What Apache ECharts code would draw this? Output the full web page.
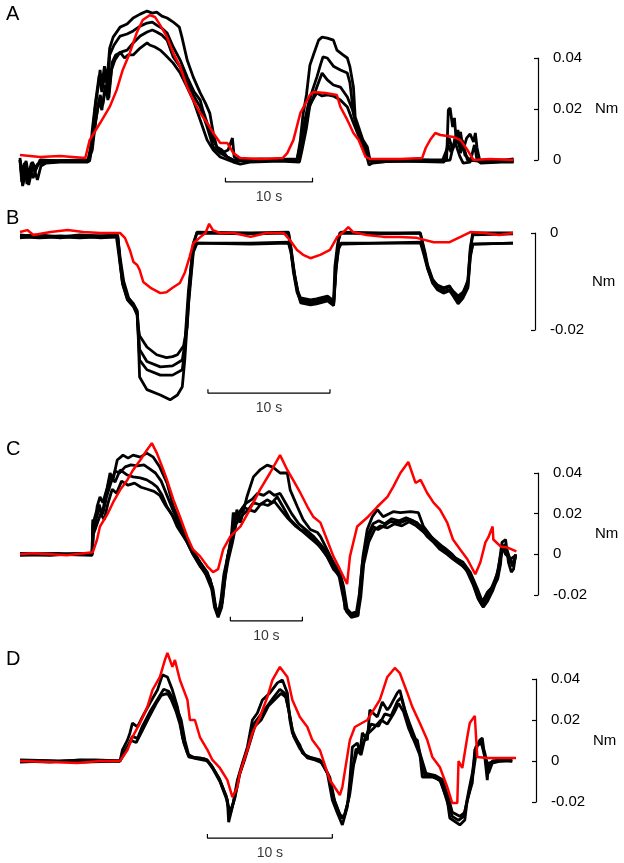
<!DOCTYPE html>
<html><head><meta charset="utf-8">
<script src="https://cdn.jsdelivr.net/npm/echarts/dist/echarts.min.js"></script>
<style>html,body{margin:0;padding:0;background:#fff}#c{width:624px;height:863px}</style>
</head><body><div id="c"></div>
<script>
// ---------- Panel A (time s, torque Nm) ----------
const aRed = [[0,0.0020],[2.3,0.0012],[4.6,0.0016],[7.5,0.0008],[8.0,0.0078],[9.2,0.0145],[10.3,0.0208],[11.1,0.0274],[11.8,0.0353],[12.6,0.0419],[13.4,0.0498],[14.1,0.0549],[14.9,0.0568],[15.5,0.0561],[16.1,0.0529],[16.9,0.0482],[17.6,0.0419],[18.4,0.0365],[19.2,0.0286],[19.9,0.0235],[20.7,0.0184],[21.5,0.0145],[22.2,0.0106],[23.0,0.0067],[23.8,0.0067],[24.1,0.0051],[24.5,0.0027],[25.3,0.0008],[27.6,0.0004],[30.2,0.0008],[30.7,0.0027],[31.4,0.0078],[32.2,0.0184],[33.3,0.0255],[33.7,0.0267],[35.1,0.0263],[36.4,0.0255],[36.8,0.0208],[37.6,0.0157],[38.3,0.0106],[38.9,0.0078],[39.7,0.0012],[40.2,0.0004],[43.7,0.0004],[46.2,0.0008],[46.6,0.0047],[47.1,0.0078],[47.7,0.0106],[48.3,0.0098],[49.8,0.0090],[50.6,0.0078],[51.4,0.0039],[52.1,0.0],[54.0,0.0004],[56.7,0.0]];
const aBlack1 = [[0,0],[0.2,-0.0086],[0.6,-0.0024],[0.9,-0.0078],[1.3,-0.0012],[1.7,-0.0047],[2.3,0],[4.6,-0.0004],[7.8,0],[8.3,0.0078],[8.6,0.0196],[9.0,0.0294],[9.2,0.0353],[9.4,0.0290],[9.7,0.0368],[10.0,0.0314],[10.3,0.0439],[10.7,0.0482],[11.5,0.0521],[12.3,0.0533],[13.0,0.0557],[13.8,0.0572],[14.6,0.0584],[15.2,0.0576],[15.7,0.0580],[16.3,0.0564],[16.9,0.0557],[17.6,0.0541],[18.3,0.0521],[18.6,0.0482],[19.2,0.0392],[19.9,0.0325],[20.7,0.0263],[21.3,0.0223],[21.8,0.0184],[22.2,0.0106],[22.6,0.0051],[23.2,0.0039],[23.8,0.0012],[24.5,0],[26.4,-0.0004],[28.7,0],[31.8,-0.0004],[32.2,0.0078],[32.5,0.0176],[32.9,0.0255],[33.3,0.0372],[33.7,0.0412],[34.3,0.0470],[34.7,0.0482],[35.3,0.0478],[36.0,0.0470],[36.4,0.0431],[37.1,0.0412],[37.6,0.0400],[37.9,0.0365],[38.3,0.0286],[38.5,0.0169],[38.9,0.0129],[39.4,0.0078],[39.9,0.0051],[40.2,0],[40.5,-0.0012],[42.5,-0.0004],[46.0,0],[49.0,0],[49.2,0.0196],[49.4,0.0204],[49.7,0.0129],[49.9,0.0165],[50.1,0.0078],[50.3,0.0118],[50.6,0.0027],[50.9,0.0059],[51.4,0],[52.9,-0.0004],[55.2,0],[56.7,-0.0004]];
const aBlack2 = [[0,0],[0.2,-0.0059],[0.5,-0.0012],[0.8,-0.0094],[1.1,-0.0031],[1.5,-0.0071],[2.0,-0.0016],[2.9,-0.0008],[5.7,-0.0004],[8.0,-0.0004],[8.3,0.0118],[8.7,0.0235],[9.1,0.0333],[9.4,0.0267],[9.8,0.0345],[10.1,0.0255],[10.3,0.0412],[10.8,0.0451],[11.5,0.0486],[12.3,0.0494],[13.0,0.0506],[13.8,0.0525],[14.6,0.0537],[15.2,0.0541],[15.7,0.0529],[16.4,0.0514],[16.9,0.0498],[17.6,0.0443],[18.4,0.0392],[19.2,0.0325],[20.0,0.0267],[20.7,0.0235],[21.0,0.0196],[21.5,0.0145],[22.2,0.0078],[22.8,0.0039],[23.2,0.0027],[23.9,0.0039],[24.4,0.0086],[24.6,0.0012],[25.3,0],[27.6,0.0004],[31.8,0],[32.2,0.0059],[32.6,0.0137],[33.1,0.0216],[33.6,0.0274],[34.1,0.0325],[34.5,0.0372],[34.8,0.0404],[35.3,0.0400],[36.0,0.0368],[36.8,0.0353],[37.6,0.0341],[37.9,0.0302],[38.3,0.0184],[38.7,0.0129],[39.3,0.0078],[39.9,0.0027],[40.2,0],[42.5,-0.0004],[48.3,-0.0004],[49.4,0],[50.0,0.0090],[50.2,0.0067],[50.6,0.0110],[50.9,0.0039],[51.3,0.0086],[51.7,0.0102],[52.1,0.0071],[52.3,0.0106],[52.5,0.0047],[52.8,0],[54.6,-0.0004],[56.7,0.0004]];
const aBlack3 = [[0,-0.0008],[0.3,-0.0039],[0.7,-0.0004],[1.0,-0.0063],[1.4,-0.0008],[1.8,-0.0031],[2.5,-0.0004],[8.0,0],[8.4,0.0086],[8.9,0.0196],[9.2,0.0255],[9.5,0.0216],[9.9,0.0294],[10.2,0.0243],[10.6,0.0384],[11.0,0.0412],[11.6,0.0423],[12.3,0.0431],[13.0,0.0459],[13.8,0.0486],[14.6,0.0502],[15.2,0.0510],[15.7,0.0502],[16.3,0.0490],[16.9,0.0470],[17.6,0.0404],[18.4,0.0365],[19.2,0.0302],[19.9,0.0255],[20.7,0.0208],[21.5,0.0129],[22.2,0.0051],[23.0,0.0027],[23.8,0.0012],[24.7,-0.0004],[27.6,0],[32.0,0.0004],[32.3,0.0059],[32.8,0.0137],[33.2,0.0204],[33.7,0.0247],[34.1,0.0286],[34.7,0.0341],[35.3,0.0314],[36.0,0.0294],[36.8,0.0286],[37.6,0.0247],[38.2,0.0196],[38.7,0.0129],[39.4,0.0051],[39.9,0.0012],[40.5,-0.0004],[46.0,0],[48.5,-0.0004],[49.0,0.0039],[49.3,0.0086],[49.7,0.0039],[50.1,0.0098],[50.5,0.0051],[50.8,0.0078],[51.1,0.0020],[51.7,0],[54.0,-0.0008],[56.7,-0.0004]];
const aBlack4 = [[0,0.0008],[0.3,-0.0102],[0.7,-0.0047],[1.0,-0.0098],[1.5,-0.0020],[2.0,-0.0078],[2.4,-0.0024],[3.0,-0.0012],[4.6,-0.0008],[7.8,-0.0008],[8.3,0.0039],[8.7,0.0157],[9.1,0.0235],[9.4,0.0196],[9.8,0.0294],[10.1,0.0235],[10.5,0.0353],[10.9,0.0392],[11.5,0.0423],[12.0,0.0400],[12.4,0.0412],[13.0,0.0412],[13.8,0.0439],[14.6,0.0459],[14.9,0.0451],[15.5,0.0443],[16.1,0.0431],[16.7,0.0412],[17.6,0.0380],[18.4,0.0341],[19.2,0.0286],[19.9,0.0235],[20.7,0.0157],[21.5,0.0078],[22.2,0.0039],[23.0,0.0012],[23.9,0],[24.5,-0.0008],[25.3,-0.0016],[26.4,-0.0008],[29.9,-0.0004],[32.1,-0.0008],[32.4,0.0039],[32.9,0.0125],[33.3,0.0216],[33.8,0.0247],[34.1,0.0263],[34.7,0.0251],[35.3,0.0255],[36.0,0.0251],[36.8,0.0235],[37.6,0.0208],[38.3,0.0145],[39.1,0.0078],[39.7,0.0031],[40.1,-0.0020],[40.6,-0.0008],[43.7,-0.0004],[48.7,-0.0008],[49.2,0.0059],[49.5,0.0031],[50.0,0.0067],[50.5,0.0016],[50.9,-0.0012],[51.7,-0.0008],[52.2,0.0059],[52.5,0],[52.9,-0.0012],[55.2,-0.0008],[56.7,-0.0008]];

// ---------- Panel B ----------
const bRed = [[0,0.0002],[0.6,0.0006],[1.1,-0.0004],[2.5,0.0002],[3.9,0.0006],[5.2,0.0002],[6.6,0],[8.2,0],[8.6,-0.0010],[9.0,-0.0035],[9.3,-0.0060],[9.6,-0.0066],[9.8,-0.0076],[10.1,-0.0101],[10.7,-0.0113],[11.5,-0.0124],[12.0,-0.0122],[12.5,-0.0113],[13.1,-0.0103],[13.5,-0.0082],[13.9,-0.0049],[14.2,-0.0021],[14.8,-0.0008],[15.2,0],[15.5,0.0019],[15.8,0.0006],[16.4,0],[17.5,0],[18.9,-0.0008],[20.2,0],[21.6,0],[22.1,-0.0014],[22.7,-0.0035],[23.2,-0.0045],[23.8,-0.0052],[24.6,-0.0045],[25.4,-0.0035],[26.0,-0.0008],[26.5,0.0002],[26.9,0.0012],[27.3,0.0002],[28.4,-0.0004],[29.8,-0.0008],[31.1,-0.0008],[32.5,-0.0010],[33.9,-0.0019],[35.2,-0.0019],[36.1,-0.0008],[36.9,0.0002],[38.0,0],[39.3,-0.0004],[40.4,0]];
const bBlack1 = [[0,-0.0004],[1.6,-0.0008],[3.3,-0.0006],[4.9,-0.0008],[6.6,-0.0006],[8.0,-0.0006],[8.2,-0.0056],[8.4,-0.0098],[8.8,-0.0132],[9.3,-0.0146],[9.6,-0.0160],[9.7,-0.0196],[9.8,-0.0212],[10.4,-0.0235],[11.2,-0.0251],[12.0,-0.0257],[12.5,-0.0255],[12.9,-0.0251],[13.4,-0.0233],[13.7,-0.0194],[13.9,-0.0103],[14.2,-0.0021],[14.5,0],[18.9,-0.0002],[22.0,0],[22.1,-0.0014],[22.4,-0.0070],[22.7,-0.0117],[23.0,-0.0134],[23.8,-0.0138],[24.3,-0.0136],[25.2,-0.0130],[25.7,-0.0140],[25.8,-0.0070],[26.0,-0.0027],[26.2,0],[29.5,-0.0002],[32.8,0],[33.2,-0.0041],[33.4,-0.0066],[33.8,-0.0095],[34.2,-0.0109],[34.7,-0.0115],[35.2,-0.0111],[35.5,-0.0120],[35.9,-0.0130],[36.3,-0.0122],[36.7,-0.0101],[36.9,-0.0035],[37.1,-0.0004],[40.4,-0.0002]];
const bBlack2 = [[0,-0.0008],[1.6,-0.0010],[3.3,-0.0008],[4.9,-0.0010],[6.6,-0.0008],[7.9,-0.0008],[8.1,-0.0045],[8.4,-0.0103],[8.8,-0.0136],[9.3,-0.0150],[9.6,-0.0167],[9.7,-0.0210],[9.8,-0.0262],[10.4,-0.0282],[11.5,-0.0293],[12.5,-0.0293],[13.3,-0.0282],[13.5,-0.0241],[13.8,-0.0138],[14.2,-0.0035],[14.5,-0.0021],[18.9,-0.0021],[22.0,-0.0019],[22.2,-0.0035],[22.4,-0.0080],[22.7,-0.0122],[23.0,-0.0140],[23.8,-0.0146],[24.3,-0.0142],[25.2,-0.0138],[25.7,-0.0148],[25.9,-0.0070],[26.1,-0.0031],[26.3,-0.0021],[29.5,-0.0021],[32.8,-0.0019],[33.1,-0.0045],[33.4,-0.0074],[33.8,-0.0099],[34.2,-0.0115],[34.7,-0.0120],[35.2,-0.0117],[35.5,-0.0128],[35.9,-0.0142],[36.3,-0.0132],[36.7,-0.0109],[36.9,-0.0045],[37.1,-0.0023],[40.4,-0.0021]];
const bBlack3 = [[0,-0.0010],[1.6,-0.0006],[3.3,-0.0010],[4.9,-0.0006],[6.6,-0.0010],[8.0,-0.0008],[8.2,-0.0060],[8.4,-0.0105],[8.8,-0.0138],[9.3,-0.0152],[9.6,-0.0169],[9.7,-0.0220],[9.8,-0.0297],[10.4,-0.0323],[11.5,-0.0334],[12.3,-0.0344],[12.9,-0.0334],[13.3,-0.0317],[13.5,-0.0262],[13.8,-0.0150],[14.2,-0.0040],[14.5,-0.0021],[18.9,-0.0023],[22.0,-0.0021],[22.2,-0.0040],[22.5,-0.0090],[22.8,-0.0126],[23.0,-0.0144],[23.8,-0.0148],[24.3,-0.0146],[25.2,-0.0140],[25.7,-0.0150],[25.9,-0.0075],[26.1,-0.0033],[26.3,-0.0023],[29.5,-0.0021],[32.9,-0.0021],[33.2,-0.0050],[33.5,-0.0080],[33.8,-0.0103],[34.2,-0.0117],[34.7,-0.0124],[35.2,-0.0119],[35.5,-0.0130],[35.9,-0.0146],[36.3,-0.0134],[36.7,-0.0113],[36.9,-0.0050],[37.1,-0.0023],[40.4,-0.0021]];
const bBlack4 = [[0,-0.0006],[1.6,-0.0004],[3.3,-0.0008],[4.9,-0.0004],[6.6,-0.0006],[8.0,-0.0004],[8.2,-0.0050],[8.5,-0.0100],[8.9,-0.0134],[9.3,-0.0148],[9.6,-0.0162],[9.7,-0.0200],[9.8,-0.0240],[10.4,-0.0265],[11.5,-0.0276],[12.5,-0.0274],[13.3,-0.0262],[13.5,-0.0230],[13.8,-0.0120],[14.2,-0.0025],[14.5,0.0002],[18.9,0],[22.0,0.0002],[22.2,-0.0030],[22.5,-0.0085],[22.8,-0.0124],[23.0,-0.0138],[23.8,-0.0142],[24.3,-0.0140],[25.2,-0.0134],[25.7,-0.0144],[25.9,-0.0065],[26.1,-0.0015],[26.3,0.0002],[29.5,0],[32.8,0],[33.1,-0.0035],[33.4,-0.0070],[33.8,-0.0097],[34.2,-0.0107],[34.7,-0.0113],[35.2,-0.0109],[35.5,-0.0124],[35.9,-0.0136],[36.3,-0.0126],[36.7,-0.0097],[36.9,-0.0030],[37.1,0],[40.4,0]];

// ---------- Panel C ----------
const cRed = [[0,0],[1.8,0.0005],[4.2,0],[6.5,-0.0005],[10.1,0.0010],[10.7,0.0073],[11.1,0.0137],[12.1,0.0195],[12.9,0.0254],[13.9,0.0317],[14.9,0.0366],[15.7,0.0415],[16.7,0.0464],[17.6,0.0512],[18.3,0.0547],[19.0,0.0498],[19.9,0.0415],[20.4,0.0366],[21.3,0.0268],[22.2,0.0185],[23.2,0.0088],[24.0,0.0024],[25.0,-0.0010],[26.0,-0.0059],[26.8,-0.0088],[27.5,-0.0073],[28.2,0.0024],[29.2,0.0088],[30.6,0.0137],[31.9,0.0220],[33.3,0.0317],[34.7,0.0400],[36.1,0.0488],[37.1,0.0415],[37.9,0.0366],[38.9,0.0303],[39.9,0.0234],[40.7,0.0185],[41.7,0.0156],[42.6,0.0073],[43.5,-0.0010],[44.4,-0.0073],[45.4,-0.0146],[45.8,-0.0010],[46.8,0.0137],[48.2,0.0181],[49.6,0.0234],[51.0,0.0283],[51.8,0.0332],[52.8,0.0400],[53.9,0.0454],[54.9,0.0351],[55.6,0.0366],[56.5,0.0303],[57.4,0.0254],[58.3,0.0220],[59.3,0.0156],[60.1,0.0073],[61.1,0.0024],[62.1,-0.0024],[63.2,-0.0098],[63.9,-0.0039],[64.6,0.0059],[65.0,0.0083],[65.6,0.0137],[65.7,0.0073],[66.7,0.0039],[67.6,0.0034],[68.9,0.0015]];
const cBlack1 = [[0,0],[4.2,-0.0005],[8.3,0.0005],[10.0,0],[10.1,0.0171],[10.4,0.0122],[10.7,0.0234],[11.1,0.0283],[11.5,0.0254],[12.1,0.0327],[12.5,0.0400],[12.9,0.0366],[13.5,0.0464],[14.3,0.0488],[15.0,0.0473],[15.7,0.0488],[16.7,0.0478],[17.6,0.0498],[18.5,0.0478],[19.4,0.0429],[20.4,0.0351],[21.3,0.0234],[22.2,0.0156],[23.2,0.0073],[24.0,0.0010],[25.0,-0.0039],[26.0,-0.0088],[26.8,-0.0171],[27.2,-0.0268],[27.5,-0.0303],[28.1,-0.0234],[28.5,-0.0107],[28.8,-0.0010],[29.6,0.0088],[30.1,0.0220],[30.6,0.0156],[31.5,0.0283],[32.4,0.0381],[33.3,0.0415],[34.3,0.0439],[35.1,0.0429],[36.1,0.0400],[37.1,0.0400],[37.5,0.0317],[38.5,0.0234],[39.3,0.0171],[40.3,0.0122],[41.3,0.0107],[41.7,0.0088],[42.6,0.0024],[43.5,-0.0039],[44.4,-0.0088],[44.9,-0.0156],[45.4,-0.0268],[46.3,-0.0303],[46.9,-0.0303],[47.2,-0.0171],[47.6,-0.0010],[48.2,0.0122],[48.9,0.0185],[49.6,0.0220],[50.4,0.0185],[51.8,0.0210],[52.8,0.0205],[54.2,0.0210],[55.3,0.0205],[56.0,0.0137],[57.4,0.0073],[58.8,0.0024],[60.1,-0.0010],[61.5,-0.0039],[62.5,-0.0088],[63.5,-0.0171],[64.2,-0.0234],[64.9,-0.0185],[65.7,-0.0156],[66.4,-0.0073],[66.9,0.0059],[67.4,0.0073],[67.8,-0.0039],[68.2,-0.0088],[68.5,-0.0073],[68.8,0]];
const cBlack2 = [[0,-0.0005],[5.6,0],[10.0,-0.0005],[10.1,0.0146],[10.6,0.0210],[11.0,0.0244],[11.4,0.0195],[11.9,0.0293],[12.5,0.0381],[13.2,0.0356],[13.9,0.0415],[14.9,0.0390],[15.7,0.0381],[16.7,0.0376],[17.6,0.0366],[18.3,0.0351],[19.0,0.0332],[19.7,0.0293],[20.4,0.0234],[21.1,0.0195],[21.8,0.0137],[23.2,0.0059],[24.0,0],[25.0,-0.0059],[25.7,-0.0088],[26.4,-0.0122],[26.8,-0.0195],[27.1,-0.0254],[27.5,-0.0293],[27.9,-0.0220],[28.3,-0.0098],[28.9,0],[29.3,0.0073],[29.6,0.0205],[30.1,0.0171],[31.0,0.0234],[31.7,0.0220],[32.4,0.0254],[33.3,0.0244],[34.3,0.0268],[35.0,0.0254],[35.7,0.0283],[36.5,0.0234],[37.5,0.0171],[38.9,0.0122],[39.9,0.0107],[40.7,0.0073],[41.7,0.0034],[42.6,-0.0010],[43.5,-0.0073],[44.4,-0.0107],[44.9,-0.0195],[45.1,-0.0268],[45.8,-0.0293],[46.7,-0.0283],[47.1,-0.0195],[47.5,-0.0049],[48.2,0.0073],[49.0,0.0137],[49.7,0.0122],[50.4,0.0137],[51.4,0.0161],[52.8,0.0156],[53.9,0.0171],[55.1,0.0156],[55.8,0.0122],[56.5,0.0088],[57.4,0.0059],[58.3,0.0024],[59.3,0],[60.1,-0.0024],[61.1,-0.0049],[62.1,-0.0073],[62.8,-0.0132],[63.5,-0.0205],[64.2,-0.0254],[64.7,-0.0220],[65.3,-0.0185],[66.3,-0.0122],[66.7,-0.0049],[66.9,0.0039],[67.4,0],[68.1,-0.0024],[68.8,-0.0005]];
const cBlack3 = [[0,0.0005],[6.0,0],[10.0,0.0005],[10.2,0.0120],[10.6,0.0180],[11.0,0.0220],[11.5,0.0200],[12.0,0.0280],[12.6,0.0350],[13.2,0.0410],[13.8,0.0400],[14.6,0.0430],[15.4,0.0440],[16.3,0.0435],[17.2,0.0440],[18.0,0.0420],[18.8,0.0400],[19.6,0.0360],[20.4,0.0290],[21.2,0.0220],[22.0,0.0160],[23.0,0.0080],[24.0,0.0020],[25.0,-0.0040],[25.9,-0.0090],[26.6,-0.0150],[27.0,-0.0240],[27.4,-0.0290],[27.9,-0.0250],[28.3,-0.0120],[28.8,-0.0020],[29.4,0.0100],[29.9,0.0180],[30.5,0.0210],[31.3,0.0250],[32.2,0.0270],[33.0,0.0300],[33.8,0.0290],[34.6,0.0310],[35.3,0.0290],[36.1,0.0300],[36.9,0.0250],[37.7,0.0200],[38.7,0.0150],[39.7,0.0120],[40.7,0.0090],[41.7,0.0050],[42.6,0.0010],[43.5,-0.0050],[44.4,-0.0100],[44.9,-0.0180],[45.3,-0.0270],[46.0,-0.0300],[46.8,-0.0290],[47.2,-0.0200],[47.6,-0.0060],[48.2,0.0090],[49.0,0.0150],[49.8,0.0165],[50.6,0.0150],[51.6,0.0175],[52.6,0.0165],[53.6,0.0180],[54.6,0.0165],[55.6,0.0140],[56.6,0.0100],[57.6,0.0070],[58.6,0.0040],[59.6,0.0010],[60.6,-0.0030],[61.6,-0.0060],[62.6,-0.0110],[63.4,-0.0190],[64.0,-0.0240],[64.6,-0.0210],[65.4,-0.0170],[66.2,-0.0100],[66.8,0.0010],[67.3,0.0050],[67.8,-0.0010],[68.4,-0.0060],[68.8,0]];
const cBlack4 = [[0,0],[5.0,0.0005],[10.0,0],[10.2,0.0100],[10.7,0.0150],[11.2,0.0200],[11.7,0.0170],[12.2,0.0250],[12.8,0.0320],[13.4,0.0300],[14.1,0.0360],[15.0,0.0340],[15.9,0.0350],[16.8,0.0330],[17.7,0.0320],[18.6,0.0310],[19.4,0.0290],[20.2,0.0240],[21.0,0.0200],[21.9,0.0150],[22.9,0.0080],[23.9,0.0010],[24.9,-0.0050],[25.8,-0.0100],[26.6,-0.0170],[27.0,-0.0260],[27.5,-0.0310],[28.0,-0.0260],[28.4,-0.0130],[28.9,-0.0030],[29.5,0.0060],[30.0,0.0150],[30.8,0.0190],[31.7,0.0220],[32.6,0.0210],[33.5,0.0250],[34.4,0.0240],[35.3,0.0260],[36.2,0.0220],[37.1,0.0180],[38.2,0.0140],[39.3,0.0110],[40.3,0.0080],[41.3,0.0050],[42.3,0.0010],[43.3,-0.0050],[44.3,-0.0110],[44.8,-0.0200],[45.3,-0.0280],[46.0,-0.0310],[46.9,-0.0300],[47.3,-0.0210],[47.7,-0.0050],[48.4,0.0060],[49.2,0.0120],[50.0,0.0140],[51.0,0.0130],[52.0,0.0150],[53.0,0.0140],[54.0,0.0160],[55.0,0.0140],[56.0,0.0110],[57.0,0.0080],[58.0,0.0050],[59.0,0.0030],[60.0,0],[61.0,-0.0040],[62.0,-0.0080],[62.9,-0.0150],[63.6,-0.0220],[64.3,-0.0260],[64.9,-0.0230],[65.6,-0.0180],[66.3,-0.0110],[66.9,0.0020],[67.5,0.0030],[68.0,-0.0020],[68.5,-0.0050],[68.8,-0.0010]];

// ---------- Panel D ----------
const dRed = [[0,0],[2.4,-0.0005],[4.6,-0.0010],[6.4,0],[8.0,0],[8.6,0.0054],[9.0,0.0117],[9.6,0.0185],[10.2,0.0264],[10.6,0.0346],[11.2,0.0410],[11.6,0.0493],[11.8,0.0527],[12.2,0.0459],[12.4,0.0493],[12.8,0.0395],[13.4,0.0298],[13.6,0.0200],[14.0,0.0200],[14.4,0.0117],[15.0,0.0054],[15.4,0.0005],[16.0,-0.0034],[16.6,-0.0093],[17.0,-0.0176],[17.4,-0.0127],[17.6,-0.0059],[18.2,0.0054],[18.6,0.0137],[19.2,0.0215],[19.8,0.0312],[20.2,0.0395],[20.8,0.0459],[21.4,0.0410],[21.8,0.0298],[22.4,0.0215],[23.0,0.0166],[23.4,0.0102],[24.0,0.0054],[24.8,-0.0093],[25.6,-0.0166],[25.8,-0.0127],[26.4,0.0102],[26.8,0.0166],[27.8,0.0200],[28.8,0.0298],[29.4,0.0410],[30.0,0.0454],[30.4,0.0429],[31.0,0.0332],[31.4,0.0264],[32.0,0.0185],[32.6,0.0102],[33.0,0.0020],[33.6,-0.0029],[34.2,-0.0127],[34.6,-0.0205],[35.0,-0.0205],[35.1,0],[35.4,-0.0034],[35.8,0.0117],[36.0,0.0185],[36.4,0.0220],[36.6,0.0020],[37.4,0.0015],[38.4,0.0015],[39.7,0.0015]];
const dBlack1 = [[0,0],[2.4,-0.0005],[4.8,0.0005],[7.2,0],[8.0,0],[8.2,0.0054],[8.6,0.0102],[8.8,0.0137],[9.0,0.0185],[9.4,0.0166],[9.8,0.0215],[10.4,0.0283],[11.0,0.0346],[11.4,0.0420],[11.8,0.0410],[12.2,0.0346],[12.6,0.0264],[12.8,0.0200],[13.0,0.0117],[13.4,0.0039],[13.6,0.0020],[14.4,0.0015],[15.0,0.0005],[15.4,-0.0029],[16.0,-0.0093],[16.6,-0.0190],[16.7,-0.0298],[17.0,-0.0224],[17.4,-0.0093],[17.8,-0.0010],[18.2,0.0068],[18.6,0.0200],[19.0,0.0234],[19.4,0.0298],[20.0,0.0332],[20.6,0.0381],[21.0,0.0395],[21.4,0.0332],[21.6,0.0200],[21.8,0.0137],[22.4,0.0078],[22.6,0.0039],[23.0,0.0020],[23.4,0.0015],[24.0,0.0005],[24.6,-0.0059],[25.0,-0.0190],[25.4,-0.0254],[25.8,-0.0312],[26.2,-0.0224],[26.4,-0.0093],[26.6,0.0068],[27.0,0.0088],[27.2,0.0039],[27.4,0.0137],[27.8,0.0102],[28.0,0.0249],[28.6,0.0215],[29.0,0.0288],[29.4,0.0249],[29.6,0.0264],[30.2,0.0332],[30.4,0.0346],[30.6,0.0298],[31.0,0.0200],[31.4,0.0117],[31.8,0.0102],[32.0,0.0039],[32.2,-0.0078],[33.0,-0.0078],[33.6,-0.0093],[34.2,-0.0190],[34.4,-0.0278],[35.2,-0.0312],[35.6,-0.0288],[35.8,-0.0190],[36.2,-0.0107],[36.4,0.0054],[36.8,0.0102],[37.0,0.0112],[37.2,0.0020],[37.4,-0.0093],[37.5,-0.0010],[37.8,-0.0005],[38.4,0],[39.4,0]];
const dBlack2 = [[0,0.0005],[3.0,0],[6.0,0.0005],[8.0,0],[8.3,0.0040],[8.7,0.0080],[9.0,0.0120],[9.4,0.0110],[9.8,0.0170],[10.4,0.0240],[11.0,0.0300],[11.5,0.0350],[11.9,0.0340],[12.2,0.0310],[12.6,0.0250],[12.9,0.0200],[13.2,0.0100],[13.5,0.0030],[14.0,0.0015],[14.8,0.0010],[15.3,-0.0020],[15.9,-0.0080],[16.5,-0.0170],[16.8,-0.0250],[17.1,-0.0200],[17.5,-0.0080],[17.9,0],[18.3,0.0080],[18.7,0.0180],[19.2,0.0220],[19.7,0.0260],[20.3,0.0310],[20.8,0.0350],[21.2,0.0330],[21.5,0.0250],[21.8,0.0150],[22.3,0.0080],[22.8,0.0030],[23.5,0.0010],[24.1,0],[24.7,-0.0070],[25.1,-0.0180],[25.6,-0.0260],[25.9,-0.0280],[26.3,-0.0190],[26.6,-0.0040],[26.9,0.0060],[27.3,0.0030],[27.6,0.0110],[28.1,0.0180],[28.7,0.0170],[29.2,0.0230],[29.7,0.0220],[30.2,0.0290],[30.5,0.0310],[30.8,0.0250],[31.2,0.0180],[31.7,0.0100],[32.1,0.0020],[32.5,-0.0060],[33.2,-0.0070],[33.8,-0.0090],[34.3,-0.0180],[34.6,-0.0250],[35.2,-0.0270],[35.6,-0.0250],[35.9,-0.0150],[36.2,-0.0060],[36.5,0.0070],[36.9,0.0090],[37.2,0.0040],[37.5,-0.0040],[37.8,0],[38.5,0.0005],[39.4,0]];
const dBlack3 = [[0,-0.0005],[2.0,0],[5.0,-0.0005],[8.0,0],[8.3,0.0030],[8.6,0.0070],[8.9,0.0100],[9.3,0.0090],[9.8,0.0150],[10.3,0.0210],[10.9,0.0280],[11.3,0.0320],[11.8,0.0330],[12.1,0.0300],[12.5,0.0240],[12.8,0.0180],[13.1,0.0090],[13.5,0.0020],[14.2,0.0010],[15.0,0],[15.4,-0.0035],[16.0,-0.0100],[16.5,-0.0180],[16.8,-0.0260],[17.2,-0.0180],[17.6,-0.0060],[18.0,0.0010],[18.4,0.0090],[18.8,0.0170],[19.3,0.0200],[19.9,0.0270],[20.4,0.0300],[20.9,0.0330],[21.3,0.0310],[21.6,0.0220],[21.9,0.0120],[22.4,0.0060],[23.0,0.0015],[23.6,0.0005],[24.2,-0.0010],[24.8,-0.0080],[25.2,-0.0200],[25.7,-0.0280],[26.0,-0.0260],[26.4,-0.0160],[26.7,-0.0020],[27.0,0.0050],[27.4,0.0080],[27.8,0.0130],[28.3,0.0160],[28.9,0.0200],[29.4,0.0180],[29.9,0.0230],[30.3,0.0280],[30.7,0.0240],[31.1,0.0160],[31.6,0.0090],[32.0,0.0030],[32.4,-0.0070],[33.1,-0.0075],[33.7,-0.0100],[34.2,-0.0200],[34.6,-0.0270],[35.1,-0.0290],[35.5,-0.0270],[35.9,-0.0170],[36.3,-0.0050],[36.6,0.0080],[36.9,0.0095],[37.2,0.0020],[37.5,-0.0060],[37.8,-0.0010],[38.5,0],[39.4,0.0005]];

const panelLetters = ['A','B','C','D'];
const yLimits = [[0,0.04],[-0.02,0],[-0.02,0.04],[-0.02,0.04]];
const yUnit = 'Nm';
const scaleBarLabel = '10 s';
const scaleBarLength = 10;

const FONT = '"Liberation Sans", Arial, Helvetica, sans-serif';
const layout = [
  {grid:{left:20, top:58, width:518, height:102}, xMax:59.5, bar:{t0:23.6, y:-0.0086, tick:0.0016}, letterTop:4,   black:[aBlack1,aBlack2,aBlack3,aBlack4], red:aRed},
  {grid:{left:20, top:233, width:515, height:97}, xMax:42.2, bar:{t0:15.4, y:-0.0330, tick:0.0008}, letterTop:208, black:[bBlack1,bBlack2,bBlack3,bBlack4], red:bRed},
  {grid:{left:20, top:473, width:518, height:122}, xMax:71.9, bar:{t0:29.2, y:-0.0327, tick:0.0020}, letterTop:439, black:[cBlack1,cBlack2,cBlack3,cBlack4], red:cRed},
  {grid:{left:20, top:679, width:516, height:123}, xMax:41.3, bar:{t0:15.0, y:-0.0376, tick:0.0020}, letterTop:649, black:[dBlack1,dBlack2,dBlack3], red:dRed}
];

const grids = [], xAxes = [], yAxes = [], series = [], graphics = [];
layout.forEach((p, i) => {
  grids.push(p.grid);
  xAxes.push({type:'value', gridIndex:i, min:0, max:p.xMax, show:false});
  yAxes.push({
    type:'value', gridIndex:i, position:'right', min:yLimits[i][0], max:yLimits[i][1], interval:0.02,
    axisLine:{show:true, onZero:false, lineStyle:{color:'#000', width:1.2}},
    axisTick:{show:true, inside:true, length:4, lineStyle:{color:'#000', width:1.2}},
    axisLabel:{margin:15, fontSize:15, color:'#000', fontFamily:FONT},
    splitLine:{show:false},
    name:yUnit, nameLocation:'middle', nameRotate:0, nameGap:57,
    nameTextStyle:{fontSize:15, color:'#000', fontFamily:FONT, align:'left', verticalAlign:'middle'}
  });
  p.black.forEach(d => series.push({
    type:'line', xAxisIndex:i, yAxisIndex:i, data:d, symbol:'none', clip:false, silent:true,
    lineStyle:{color:'#000', width:2.8}, z:2
  }));
  series.push({
    type:'line', xAxisIndex:i, yAxisIndex:i, data:p.red, symbol:'none', clip:false, silent:true,
    lineStyle:{color:'#ff0000', width:2.5}, z:3
  });
  const b = p.bar, t1 = b.t0 + scaleBarLength;
  series.push({
    type:'line', xAxisIndex:i, yAxisIndex:i, symbol:'none', clip:false, silent:true,
    data:[[b.t0, b.y + b.tick],[b.t0, b.y],[t1, b.y],[t1, b.y + b.tick]],
    lineStyle:{color:'#000', width:1.2}, z:1
  });
  series.push({
    type:'scatter', xAxisIndex:i, yAxisIndex:i, symbolSize:0, clip:false, silent:true,
    data:[[(b.t0 + t1) / 2, b.y]],
    label:{show:true, position:'bottom', distance:8, formatter:scaleBarLabel, fontSize:14, color:'#000', fontFamily:FONT}
  });
  graphics.push({type:'text', left:6, top:p.letterTop, style:{text:panelLetters[i], fontSize:20, fontFamily:FONT, fill:'#000'}});
});

const chart = echarts.init(document.getElementById('c'), null, {renderer:'canvas'});
chart.setOption({
  animation:false,
  backgroundColor:'#fff',
  grid:grids, xAxis:xAxes, yAxis:yAxes, series:series, graphic:graphics
});
</script>
</body></html>
